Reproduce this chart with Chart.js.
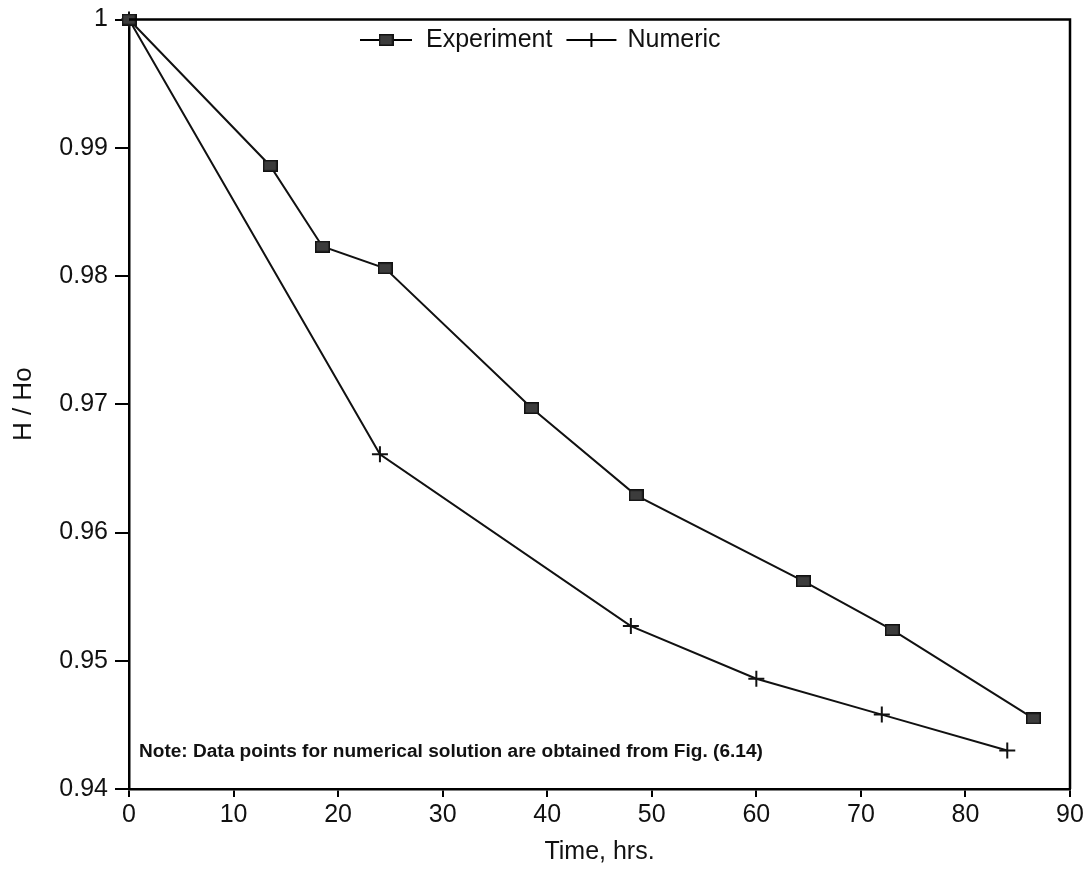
<!DOCTYPE html>
<html><head><meta charset="utf-8">
<script src="https://cdn.jsdelivr.net/npm/chart.js@4"></script>
<style>html,body{margin:0;background:#fff}#wrap{width:1092px;height:869px}</style>
</head><body><div id="wrap"><canvas id="c" width="1092" height="869"></canvas></div>
<script>
// data
const expTime=[0,13.5,18.5,24.5,38.5,48.5,64.5,73,86.5];
const expH=[1,0.9886,0.9823,0.9806,0.9697,0.9629,0.9562,0.9524,0.9455];
const numTime=[0,24,48,60,72,84];
const numH=[1,0.9661,0.9527,0.9486,0.9458,0.9430];
const xTicks=[0,10,20,30,40,50,60,70,80,90];
const yTicks=[0.94,0.95,0.96,0.97,0.98,0.99,1];
const noteText='Note: Data points for numerical solution are obtained from Fig. (6.14)';

const FONT='"Liberation Sans", Arial, sans-serif';

function squareMarker(){
  const c=document.createElement('canvas'); c.width=15; c.height=12;
  const g=c.getContext('2d');
  g.fillStyle='#3c3c3c'; g.fillRect(0,0,15,12);
  g.strokeStyle='#111'; g.lineWidth=1.5; g.strokeRect(0.75,0.75,13.5,10.5);
  return c;
}
const sq=squareMarker();

const extras={
  id:'extras',
  afterDraw(chart){
    const ctx=chart.ctx, a=chart.chartArea;
    ctx.save();
    // frame top + right
    ctx.strokeStyle='#000'; ctx.lineWidth=2.5;
    ctx.beginPath(); ctx.moveTo(a.left,a.top); ctx.lineTo(a.right,a.top); ctx.lineTo(a.right,a.bottom); ctx.stroke();
    // legend
    const ly=40; let x=360;
    ctx.font='25px '+FONT; ctx.fillStyle='#111'; ctx.textBaseline='middle';
    ctx.lineWidth=2;
    ctx.beginPath(); ctx.moveTo(x,ly); ctx.lineTo(x+52,ly); ctx.stroke();
    ctx.drawImage(sq,x+26-7.5,ly-6);
    x+=66; ctx.fillText('Experiment',x,ly); x+=ctx.measureText('Experiment').width+14;
    ctx.beginPath(); ctx.moveTo(x,ly); ctx.lineTo(x+50,ly); ctx.stroke();
    ctx.beginPath(); ctx.moveTo(x+25,ly-7); ctx.lineTo(x+25,ly+7); ctx.stroke();
    x+=61; ctx.fillText('Numeric',x,ly);
    // note
    ctx.font='bold 20px '+FONT;
    const w=ctx.measureText(noteText).width;
    const fs=20*624/w;
    ctx.font='bold '+fs.toFixed(2)+'px '+FONT;
    ctx.textBaseline='middle';
    ctx.fillText(noteText,139,752);
    ctx.restore();
  }
};

new Chart(document.getElementById('c'),{
  type:'line',
  data:{datasets:[
    {label:'Experiment',data:expTime.map((t,i)=>({x:t,y:expH[i]})),borderColor:'#111',borderWidth:2,
     pointStyle:sq,pointRadius:7,clip:false,tension:0},
    {label:'Numeric',data:numTime.map((t,i)=>({x:t,y:numH[i]})),borderColor:'#111',borderWidth:2,
     pointStyle:'cross',pointRadius:8,pointBorderWidth:2,pointBorderColor:'#111',clip:false,tension:0}
  ]},
  options:{
    responsive:false,animation:false,
    layout:{padding:{top:17,right:22,left:0,bottom:0}},
    plugins:{legend:{display:false},tooltip:{enabled:false}},
    scales:{
      x:{type:'linear',min:0,max:90,
        afterBuildTicks:s=>{s.ticks=xTicks.map(v=>({value:v}));},
        afterFit:s=>{s.height=80;},
        border:{display:true,color:'#000',width:2.5},
        grid:{drawOnChartArea:false,drawTicks:true,tickLength:8,color:'#000',lineWidth:2},
        ticks:{color:'#111',padding:3,maxRotation:0,font:{family:FONT,size:25}},
        title:{display:true,text:'Time, hrs.',color:'#111',font:{family:FONT,size:25},padding:{top:0,bottom:2}}
      },
      y:{min:0.94,max:1,
        afterBuildTicks:s=>{s.ticks=yTicks.map(v=>({value:v}));},
        afterFit:s=>{s.width=129;},
        border:{display:true,color:'#000',width:2.5},
        grid:{drawOnChartArea:false,drawTicks:true,tickLength:14,color:'#000',lineWidth:2},
        ticks:{color:'#111',padding:7,font:{family:FONT,size:25,lineHeight:1},
          callback:v=>v===1?'1':v.toFixed(2)},
        title:{display:true,text:'H / Ho',color:'#111',font:{family:FONT,size:26},padding:{top:8,bottom:0}}
      }
    }
  },
  plugins:[extras]
});
</script></body></html>
